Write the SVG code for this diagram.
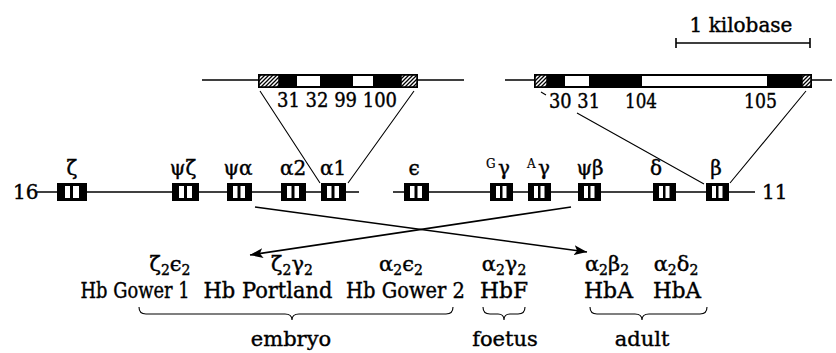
<svg xmlns="http://www.w3.org/2000/svg" width="836" height="353" viewBox="0 0 836 353">
<defs>
<pattern id="hatch" patternUnits="userSpaceOnUse" width="4" height="4">
<rect width="4" height="4" fill="#fff"/>
<path d="M-1,1 l2,-2 M0,4 l4,-4 M3,5 l2,-2" stroke="#000" stroke-width="1.3"/>
</pattern>
<marker id="ah" markerUnits="userSpaceOnUse" markerWidth="14" markerHeight="10" refX="13" refY="5" orient="auto">
<path d="M0,0 L13,5 L0,10 L3,5 Z" fill="#000"/>
</marker>
<style>
text{font-family:"DejaVu Serif","Liberation Serif",serif;fill:#000;stroke:#000;stroke-width:0.4}
.ln{stroke:#000;stroke-width:1.6;fill:none}
.th{stroke:#000;stroke-width:1.1;fill:none}
.gb{fill:#000}
.gw{fill:#fff}
.hb{fill:url(#hatch);stroke:#000;stroke-width:1.5}
.gl{font-size:20px;text-anchor:middle}
.num{font-size:20px}
.r1{font-size:21px;text-anchor:middle}
.sub{font-size:14px}
.r2{font-size:21.5px;text-anchor:middle}
.r4{font-size:21px;text-anchor:middle}
</style>
</defs>

<!-- scale bar -->
<g id="scale">
<path class="ln" d="M676,43 H810 M676,38 V48 M810,38 V48"/>
<text x="741" y="32" style="font-size:20px;text-anchor:middle">1 kilobase</text>
</g>

<!-- alpha gene detail -->
<g id="alpha-detail">
<path class="ln" d="M202,80 H258 M418,80 H464"/>
<rect x="258" y="74" width="160" height="14" class="gb"/>
<rect x="297" y="76" width="23" height="10" class="gw"/>
<rect x="353" y="76" width="20" height="10" class="gw"/>
<rect x="259" y="75" width="20" height="12" class="hb"/>
<rect x="401" y="75" width="16" height="12" class="hb"/>
<text class="num" x="277" y="107" textLength="120" lengthAdjust="spacingAndGlyphs">31 32 99 100</text>
</g>

<!-- beta gene detail -->
<g id="beta-detail">
<path class="ln" d="M505,80 H534 M812,80 H832"/>
<rect x="534" y="74" width="278" height="14" class="gb"/>
<rect x="565" y="76" width="24" height="10" class="gw"/>
<rect x="642" y="76" width="125" height="10" class="gw"/>
<rect x="535" y="75" width="12" height="12" class="hb"/>
<rect x="802" y="75" width="9" height="12" class="hb"/>
<text class="num" x="549" y="108" textLength="51" lengthAdjust="spacingAndGlyphs">30 31</text>
<text class="num" x="625" y="108" textLength="32" lengthAdjust="spacingAndGlyphs">104</text>
<text class="num" x="744" y="108" textLength="33" lengthAdjust="spacingAndGlyphs">105</text>
</g>

<!-- chromosome 16 -->
<g id="chr16">
<text x="13" y="199" style="font-size:20px">16</text>
<path class="ln" d="M37,192 H359"/>
</g>
<g id="chr11">
<path class="ln" d="M393,192 H755"/>
<text x="762" y="199" style="font-size:20px">11</text>
</g>

<g id="zeta">
<rect x="57" y="183" width="30" height="18" class="gb"/>
<rect x="65" y="186" width="5" height="12" class="gw"/><rect x="73" y="186" width="6" height="12" class="gw"/>
<text class="gl" x="72" y="175">ζ</text>
</g>
<g id="psizeta">
<rect x="172" y="183" width="27" height="18" class="gb"/>
<rect x="179" y="186" width="5" height="12" class="gw"/><rect x="187" y="186" width="5" height="12" class="gw"/>
<text class="gl" x="183" y="175">ψζ</text>
</g>
<g id="psialpha">
<rect x="227" y="183" width="25" height="18" class="gb"/>
<rect x="233" y="186" width="4.5" height="12" class="gw"/><rect x="240.5" y="186" width="4.5" height="12" class="gw"/>
<text class="gl" x="238" y="175">ψα</text>
</g>
<g id="alpha2">
<rect x="281" y="183" width="25" height="18" class="gb"/>
<rect x="287" y="186" width="4.5" height="12" class="gw"/><rect x="294.5" y="186" width="4.5" height="12" class="gw"/>
<text class="gl" x="293" y="175">α2</text>
</g>
<g id="alpha1">
<rect x="321" y="183" width="25" height="18" class="gb"/>
<rect x="327" y="186" width="4.5" height="12" class="gw"/><rect x="334.5" y="186" width="4.5" height="12" class="gw"/>
<text class="gl" x="333" y="175">α1</text>
</g>
<g id="epsilon">
<rect x="404" y="183" width="25" height="18" class="gb"/>
<rect x="410" y="186" width="4.5" height="12" class="gw"/><rect x="417.5" y="186" width="4.5" height="12" class="gw"/>
<text class="gl" x="414" y="175">ϵ</text>
</g>
<g id="Ggamma">
<rect x="490" y="183" width="23" height="18" class="gb"/>
<rect x="496" y="186" width="4" height="12" class="gw"/><rect x="502.5" y="186" width="4" height="12" class="gw"/>
<text x="486" y="168" style="font-size:12px;stroke-width:0.2">G</text>
<text class="gl" x="504" y="175">γ</text>
</g>
<g id="Agamma">
<rect x="528" y="183" width="23" height="18" class="gb"/>
<rect x="534" y="186" width="4" height="12" class="gw"/><rect x="540.5" y="186" width="4" height="12" class="gw"/>
<text x="527" y="168" style="font-size:12px;stroke-width:0.2">A</text>
<text class="gl" x="544" y="175">γ</text>
</g>
<g id="psibeta">
<rect x="578" y="183" width="23" height="18" class="gb"/>
<rect x="584" y="186" width="4" height="12" class="gw"/><rect x="590.5" y="186" width="4" height="12" class="gw"/>
<text class="gl" x="590" y="175">ψβ</text>
</g>
<g id="delta">
<rect x="653" y="183" width="23" height="18" class="gb"/>
<rect x="659" y="186" width="4" height="12" class="gw"/><rect x="665.5" y="186" width="4" height="12" class="gw"/>
<text class="gl" x="656" y="175">δ</text>
</g>
<g id="beta">
<rect x="706" y="183" width="23" height="18" class="gb"/>
<rect x="712" y="186" width="4" height="12" class="gw"/><rect x="718.5" y="186" width="4" height="12" class="gw"/>
<text class="gl" x="716" y="175">β</text>
</g>

<!-- connectors -->
<g id="connectors">
<path class="th" d="M260,91 L320,183 M414,91 L348,183"/>
<path class="th" d="M541,92 L546,95 M577,113 L704,184 M806,91 L730,183"/>
<path class="ln" d="M255,207 L587,252" marker-end="url(#ah)"/>
<path class="ln" d="M571,207 L250,255" marker-end="url(#ah)"/>
</g>

<!-- haemoglobins -->
<g id="hb-gower1">
<text class="r1" x="170" y="271">ζ<tspan class="sub" dy="4">2</tspan><tspan dy="-4">ϵ</tspan><tspan class="sub" dy="4">2</tspan></text>
<text class="r2" x="135" y="298" textLength="109" lengthAdjust="spacingAndGlyphs">Hb Gower 1</text>
</g>
<g id="hb-portland">
<text class="r1" x="292" y="271">ζ<tspan class="sub" dy="4">2</tspan><tspan dy="-4">γ</tspan><tspan class="sub" dy="4">2</tspan></text>
<text class="r2" x="268" y="298" textLength="129" lengthAdjust="spacingAndGlyphs">Hb Portland</text>
</g>
<g id="hb-gower2">
<text class="r1" x="401" y="271">α<tspan class="sub" dy="4">2</tspan><tspan dy="-4">ϵ</tspan><tspan class="sub" dy="4">2</tspan></text>
<text class="r2" x="405.5" y="298" textLength="119" lengthAdjust="spacingAndGlyphs">Hb Gower 2</text>
</g>
<g id="hbf">
<text class="r1" x="504" y="271">α<tspan class="sub" dy="4">2</tspan><tspan dy="-4">γ</tspan><tspan class="sub" dy="4">2</tspan></text>
<text class="r2" x="504" y="298" textLength="48" lengthAdjust="spacingAndGlyphs">HbF</text>
</g>
<g id="hba1">
<text class="r1" x="607" y="271">α<tspan class="sub" dy="4">2</tspan><tspan dy="-4">β</tspan><tspan class="sub" dy="4">2</tspan></text>
<text class="r2" x="608.5" y="298" textLength="49" lengthAdjust="spacingAndGlyphs">HbA</text>
</g>
<g id="hba2">
<text class="r1" x="676" y="271">α<tspan class="sub" dy="4">2</tspan><tspan dy="-4">δ</tspan><tspan class="sub" dy="4">2</tspan></text>
<text class="r2" x="677" y="298" textLength="48" lengthAdjust="spacingAndGlyphs">HbA</text>
</g>

<!-- braces -->
<g id="braces">
<path class="th" d="M139,307 Q139,314 146,314 H285 Q292,314 292,320 Q292,314 299,314 H446 Q453,314 453,307"/>
<path class="th" d="M483,307 Q483,314 490,314 H498 Q504,314 504,320 Q504,314 510,314 H518 Q525,314 525,307"/>
<path class="th" d="M590,307 Q590,314 597,314 H635 Q642,314 642,320 Q642,314 649,314 H700 Q707,314 707,307"/>
<text class="r4" x="291" y="346">embryo</text>
<text class="r4" x="505" y="346">foetus</text>
<text class="r4" x="642" y="346">adult</text>
</g>
</svg>
